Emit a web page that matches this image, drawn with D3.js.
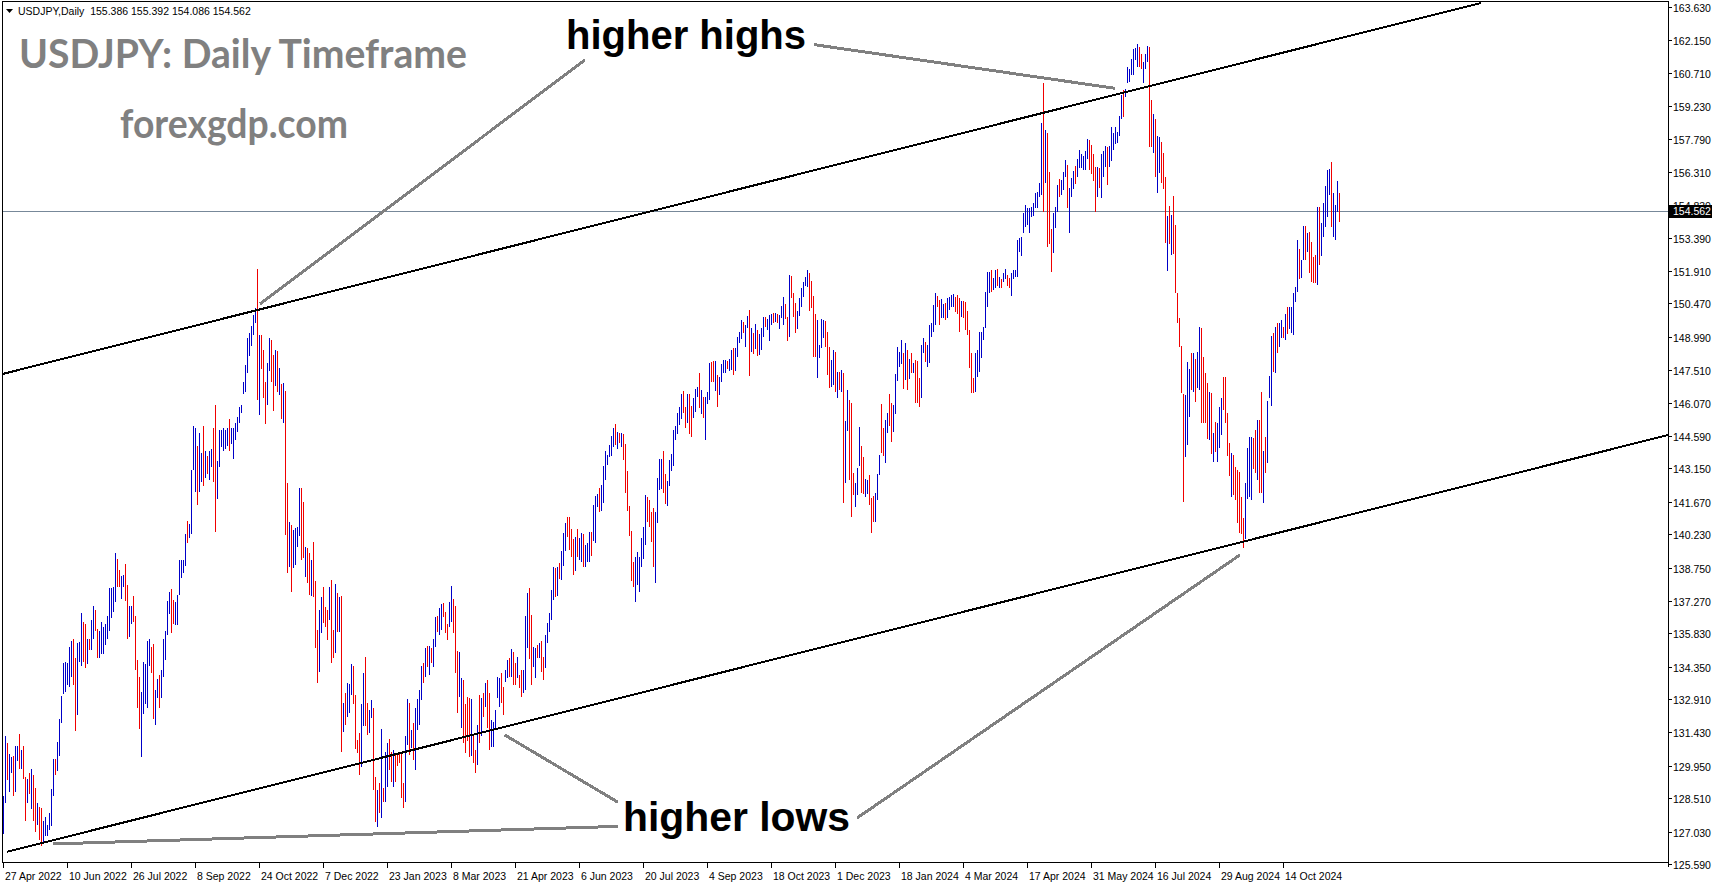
<!DOCTYPE html>
<html><head><meta charset="utf-8">
<script src="https://cdn.jsdelivr.net/npm/d3@7"></script>
<style>body{margin:0;background:#fff;overflow:hidden}svg{display:block}</style>
</head><body>
<svg id="c" width="1714" height="888"></svg>
<script>
// ---------- DATA (USDJPY daily, one bar per trading day, bar 0 = 27 Apr 2022) ----------
const highs = [
128.62,131.25,130.96,130.49,130.32,130.40,130.83,130.83,131.34,130.66,
130.83,129.47,129.38,129.64,129.81,129.55,128.96,128.28,128.11,128.08,
127.51,127.68,127.34,127.85,128.92,130.23,130.23,131.00,132.02,133.03,
134.53,134.56,134.53,135.24,135.50,135.58,134.73,135.41,135.46,136.74,
136.35,136.26,135.58,135.58,136.43,137.03,136.86,136.01,135.92,136.35,
136.09,136.26,136.60,137.83,137.83,137.88,139.39,139.15,138.64,138.39,
138.44,138.90,137.96,137.03,137.03,137.49,136.60,134.65,133.88,133.21,
134.56,134.48,135.50,135.58,135.24,135.36,133.32,133.80,133.97,134.22,
135.58,135.92,137.28,137.66,137.79,137.32,137.20,137.54,139.07,139.07,
139.07,140.25,140.81,140.68,143.09,145.01,144.93,144.16,144.72,143.82,
145.01,143.91,143.70,143.91,143.99,144.96,145.95,143.48,144.84,144.84,
144.93,144.84,144.93,145.35,144.93,144.93,145.18,145.44,145.86,145.95,
147.00,147.73,148.92,149.17,149.48,149.94,150.28,151.98,149.09,149.09,
148.41,147.00,147.85,148.92,148.83,148.20,148.40,148.35,147.60,146.90,
146.95,146.60,142.49,140.79,140.64,140.42,140.49,140.57,142.27,142.27,
141.68,139.68,139.61,139.41,139.10,139.90,138.13,135.98,136.87,137.46,
137.87,137.00,136.87,137.87,138.20,135.98,138.00,137.61,137.46,137.49,
132.72,133.17,133.62,133.60,134.45,134.40,133.10,131.10,131.40,132.70,
134.05,134.80,132.72,132.43,132.87,132.51,129.47,128.88,129.18,131.57,
128.95,130.58,130.95,131.13,130.58,130.66,130.51,130.51,130.58,130.51,
129.18,131.25,132.90,132.72,131.54,131.87,132.50,132.90,133.32,134.38,
134.50,135.17,135.27,135.27,135.17,135.57,136.57,136.60,136.94,137.14,
137.19,136.79,136.25,137.24,137.93,137.34,137.02,135.06,135.02,133.85,
133.76,132.67,133.02,132.95,132.90,131.32,130.66,131.76,133.10,132.95,
133.17,133.62,133.76,133.17,131.99,131.91,132.43,133.91,133.84,134.06,
133.44,134.21,134.65,134.72,135.12,135.02,134.50,134.80,133.98,134.21,
134.21,136.60,137.61,137.83,136.65,135.24,135.17,135.32,135.39,135.50,
134.80,135.75,136.30,136.72,137.75,138.79,138.71,138.76,138.97,139.50,
140.27,140.74,140.98,140.98,140.45,140.00,140.12,140.48,140.05,140.30,
140.24,139.75,139.82,140.34,140.34,141.53,141.92,142.01,142.28,142.41,
143.26,143.94,143.74,144.19,144.59,144.93,145.12,144.78,144.74,144.74,
144.68,144.23,143.05,141.48,140.39,139.01,139.20,139.45,139.20,140.05,
140.53,141.97,141.87,141.75,141.23,141.38,141.23,142.71,143.55,143.55,
143.94,142.90,142.61,143.52,143.79,144.85,145.03,145.62,145.89,146.45,
146.60,145.89,146.45,146.45,145.92,146.26,146.66,146.78,147.40,146.63,
146.30,146.33,146.56,147.84,147.89,147.93,147.93,147.30,147.22,147.78,
147.96,147.96,147.93,147.99,148.41,148.48,148.48,149.00,149.22,149.74,
149.66,149.52,149.91,150.18,149.37,149.17,149.56,149.29,149.12,149.37,
149.86,149.86,149.77,149.96,150.00,150.06,150.03,150.00,149.96,150.36,
150.77,150.45,149.86,151.73,151.69,150.95,150.51,150.15,150.70,151.14,
151.44,151.63,151.96,151.81,151.48,150.80,150.00,149.74,148.63,149.77,
149.74,149.71,149.22,148.52,147.96,148.41,148.33,147.44,147.44,147.52,
147.37,145.27,146.63,146.19,146.04,142.96,142.49,143.15,145.00,144.14,
143.67,142.67,142.64,142.86,141.82,141.93,142.07,142.90,143.74,146.01,
144.93,145.30,145.59,146.45,146.04,145.96,147.34,148.52,148.33,148.85,
148.26,148.73,148.41,147.99,148.26,147.81,147.96,147.93,147.15,148.63,
148.92,148.77,148.63,149.52,149.59,150.40,150.92,150.80,150.63,150.66,
150.45,150.48,150.70,150.74,150.85,150.89,150.77,150.85,150.70,150.60,
150.60,150.55,150.15,149.29,148.26,147.15,148.26,148.41,149.22,149.22,
149.44,150.99,151.88,151.88,151.96,151.59,151.96,151.99,151.63,151.54,
151.84,151.99,151.73,151.59,151.81,151.96,151.96,153.29,153.36,153.43,
154.47,154.84,154.69,154.69,154.77,154.92,155.36,155.43,155.80,158.50,
160.27,158.17,158.02,156.32,153.76,154.47,154.77,155.73,155.98,155.95,
156.32,156.84,156.62,155.58,156.03,156.37,156.57,156.87,157.28,157.10,
157.00,157.25,157.76,157.73,157.50,157.10,156.51,156.51,156.47,157.11,
157.25,157.46,157.40,157.46,158.29,158.02,158.32,158.10,158.79,159.72,
159.95,159.98,160.95,160.86,161.31,161.75,161.80,161.99,161.84,161.53,
161.20,161.53,161.90,161.84,159.50,158.88,158.64,157.90,157.87,157.65,
157.14,156.07,154.35,154.80,154.40,155.24,153.95,150.95,149.81,148.58,
146.45,146.41,147.89,147.55,148.26,148.26,147.99,148.33,149.44,149.37,
148.11,147.37,146.93,146.56,146.48,144.71,145.23,145.15,145.89,146.26,
147.22,147.22,145.59,144.26,143.85,143.75,143.23,143.08,143.00,141.90,
140.94,142.49,144.04,144.56,144.56,144.49,144.86,145.30,145.30,146.56,
143.94,144.56,146.16,147.25,149.03,149.15,149.44,149.59,149.59,149.74,
149.44,150.00,150.33,150.30,150.33,150.95,151.22,153.29,152.87,152.40,
153.91,153.91,153.58,153.66,153.21,152.55,152.62,154.77,154.77,154.03,
154.92,155.69,156.40,156.45,156.77,155.39,154.84,155.92,155.39
];
const lows = [
126.92,128.31,129.30,128.79,129.64,128.62,128.79,130.15,129.81,129.81,
129.38,127.51,128.28,128.70,128.02,127.51,127.01,127.34,126.67,126.41,
126.58,126.84,126.84,127.09,127.26,128.62,129.55,129.72,130.40,131.85,
133.12,133.21,133.55,133.46,133.88,133.55,131.51,132.19,134.56,134.39,
134.56,134.31,134.48,135.07,135.07,135.58,135.92,134.73,134.73,134.90,
134.90,135.33,135.58,135.92,136.52,136.77,137.20,137.88,137.88,137.37,
137.88,137.28,135.58,135.67,136.26,136.35,134.22,132.53,131.59,130.32,
132.27,132.70,132.53,134.39,134.05,132.02,131.76,132.95,132.53,132.95,
133.88,134.65,135.75,136.69,135.84,136.26,136.18,136.18,137.54,138.30,
138.50,138.81,139.83,140.08,140.25,143.06,142.12,141.53,142.12,142.55,
142.38,142.72,142.89,142.63,143.23,142.55,140.34,141.78,143.23,144.08,
143.91,143.99,144.16,143.91,144.25,143.57,144.42,144.76,145.18,145.61,
146.45,146.54,147.39,148.15,148.58,149.09,149.60,146.20,145.52,147.56,
146.28,145.10,145.98,147.47,147.00,145.70,146.80,146.55,146.40,145.33,
145.18,140.20,138.50,138.79,137.68,138.72,138.87,139.68,140.15,139.09,
139.16,138.35,138.05,137.53,137.50,137.46,135.17,133.61,134.13,135.83,
136.28,136.10,135.54,136.42,134.50,134.72,134.95,135.91,135.90,130.58,
131.47,131.76,132.13,132.30,133.10,132.70,130.70,130.50,129.55,129.90,
131.70,131.70,131.32,131.40,132.06,128.88,127.47,127.22,127.84,127.62,
128.36,128.36,129.03,129.77,129.25,129.03,129.25,129.92,130.06,128.51,
128.07,128.32,130.88,130.43,130.73,130.21,129.77,131.54,131.76,132.87,
133.61,133.91,134.35,133.98,134.50,134.35,135.24,135.91,135.76,135.98,
136.57,135.83,135.54,136.13,136.31,135.83,134.06,132.28,133.02,131.62,
130.95,130.51,131.03,130.36,130.39,130.06,129.65,129.99,130.95,131.25,
132.13,132.58,131.62,130.66,130.80,130.80,131.54,132.95,132.58,132.73,
132.21,133.69,133.84,133.91,133.91,133.54,133.54,133.84,133.39,133.02,
133.17,133.32,135.17,134.68,133.54,134.35,133.84,134.72,134.72,134.10,
133.75,134.30,135.40,135.90,136.42,137.31,137.43,137.49,138.23,138.20,
138.82,139.50,140.12,139.53,139.23,138.42,138.61,139.23,139.08,139.01,
138.79,138.76,139.01,139.01,139.26,139.94,139.85,141.45,141.23,141.27,
141.63,142.64,143.30,143.67,143.70,144.11,144.19,143.99,144.29,144.08,
143.52,142.07,141.27,140.15,138.17,137.90,137.24,137.97,137.68,138.76,
139.11,139.75,140.79,140.56,139.90,138.76,138.05,140.71,142.19,142.22,
142.07,141.57,141.48,142.37,143.05,143.26,144.41,144.68,145.08,145.33,
145.59,144.93,145.15,144.68,144.56,145.37,145.67,146.33,145.82,145.56,
145.37,144.41,146.01,146.19,147.00,147.00,146.60,145.89,146.41,147.00,
147.37,147.37,147.55,147.49,147.52,147.30,147.49,148.11,148.70,148.88,
149.15,148.52,149.37,147.25,148.33,148.23,148.43,148.14,148.18,148.41,
148.97,149.44,149.29,148.82,149.51,149.62,149.66,149.59,149.32,149.81,
149.51,149.77,148.82,149.00,150.70,149.86,149.17,149.32,149.91,150.30,
150.77,151.25,151.22,150.15,150.25,148.11,148.11,147.15,148.03,148.48,
148.92,148.55,147.30,146.70,146.78,146.85,146.56,146.26,146.63,146.56,
141.63,142.49,144.83,142.64,140.98,141.97,141.45,141.97,143.26,142.04,
142.01,141.87,142.01,141.53,140.27,140.79,140.79,141.75,142.86,143.82,
143.70,143.41,144.74,145.03,144.34,144.78,145.57,147.04,147.67,147.79,
146.66,147.07,146.63,147.10,147.40,147.37,146.04,146.04,145.89,146.26,
148.29,147.89,147.67,147.81,149.00,149.22,149.52,150.33,149.52,149.81,
149.81,149.74,149.81,150.18,150.33,150.33,150.11,150.00,149.22,149.86,
149.81,149.29,149.07,147.59,146.48,146.48,146.56,147.22,147.44,148.03,
148.85,149.37,150.33,150.92,150.99,151.07,151.14,151.25,151.14,151.14,
151.44,151.54,151.25,151.14,150.80,151.54,151.63,151.63,152.76,152.58,
153.58,153.88,153.95,153.61,154.32,154.35,154.69,154.69,155.21,155.30,
154.55,155.83,152.99,153.11,151.88,152.73,153.81,154.55,155.18,155.29,
155.51,156.10,154.69,153.61,155.21,155.54,155.77,156.10,156.47,156.50,
156.40,156.40,156.87,156.40,156.20,155.90,154.55,155.18,155.58,155.14,
156.10,156.54,155.73,156.54,156.81,157.28,157.55,157.61,157.91,158.64,
158.76,159.62,160.27,160.32,160.61,160.61,161.28,160.98,160.98,160.86,
160.27,160.86,161.20,157.43,157.40,157.17,156.07,155.39,156.25,155.80,
155.54,153.14,151.93,153.11,152.62,152.65,150.92,149.62,148.52,146.48,
141.68,143.64,144.19,145.45,146.63,146.56,146.11,146.70,146.63,145.18,
145.15,145.18,144.44,144.41,143.80,143.45,143.89,143.45,144.04,144.63,
145.74,145.15,143.70,142.81,141.90,141.97,141.75,140.71,140.27,140.24,
139.60,140.00,141.78,141.90,141.75,143.11,142.93,142.64,142.04,142.07,
141.63,142.93,143.38,146.26,145.92,147.45,147.37,148.26,148.55,148.92,
148.92,148.85,149.12,149.32,149.15,149.07,150.55,151.00,151.54,151.59,
152.40,152.40,152.77,151.81,151.44,151.40,151.37,151.29,152.18,152.58,
153.44,153.88,154.32,155.30,153.88,153.44,153.29,154.55,154.09
];
// u = bullish (blue) bar, d = bearish (red) bar
const directions = [
"uuduuduudu","ddududdudd","uuuuuuduuu","uuuuudduuu","dduduudduu","uuuuuuuddu","udduuddddu","uuuudduudu","uuuudduuuu","uuduuuuduu",
"duduudduuu","uuuduuuuuu","uuuuuuudud","dduuddudud","udduduuuud","dudduddduu","ddduddudud","uduuuddddu","udduuddudu","duuddudddd",
"duududuuuu","dududuuduu","ddduuddduu","dddduddudu","dudduuuuud","duududdudd","uuudduudud","duuuuududu","uudddduduu","duuuduuudu",
"uuuuuududu","dddddduuuu","uudddduuuu","dduuuuuuuu","ddudduuudu","duuudduduu","uuduuduuuu","duudududuu","uduuududuu","udduddduuu",
"uuudddduuu","uddduududu","duuddduuud","duuddduuud","duudduuuuu","dudududddu","uduuuuuddu","uduuuudddu","dddddduuuu","uuuuduudud",
"uudduuuuuu","uuuuuuuuuu","duddduuudu","uuduuuduuu","uuuddddudu","uuduuuuuuu","duuuuuuudd","uuudduduud","ddududdddd","duuududuud",
"dddududuuu","dddduddddd","duuuuddudd","uduuududuu","duduuuuudu","ududdddudu","uuuuduuud"
].join("");
const dateLabels = ["27 Apr 2022","10 Jun 2022","26 Jul 2022","8 Sep 2022","24 Oct 2022","7 Dec 2022","23 Jan 2023",
"8 Mar 2023","21 Apr 2023","6 Jun 2023","20 Jul 2023","4 Sep 2023","18 Oct 2023","1 Dec 2023","18 Jan 2024",
"4 Mar 2024","17 Apr 2024","31 May 2024","16 Jul 2024","29 Aug 2024","14 Oct 2024"];
const barsPerDateLabel = 32;
const priceTicks = [163.63,162.15,160.71,159.23,157.79,156.31,154.83,153.39,151.91,150.47,148.99,147.51,146.07,
144.59,143.15,141.67,140.23,138.75,137.27,135.83,134.35,132.91,131.43,129.95,128.51,127.03,125.59];
const lastPrice = 154.562;
const headerText = "USDJPY,Daily  155.386 155.392 154.086 154.562";
// trend channel (bar index, price)
const channelUpper = [[-0.5,147.34],[738.75,163.81]];
const channelLower = [[1.55,126.13],[832.25,144.63]];
// annotation pointer lines (bar index, price)
const pointers = [
  [[128.25,150.45],[290.75,161.28]],
  [[405.25,161.96],[555.75,160.02]],
  [[24.75,126.48],[307.25,127.26]],
  [[250.6,131.32],[307.25,128.33]],
  [[426.75,127.63],[618.25,139.31]]
];

// ---------- DRAW ----------
const svg = d3.select("#c");
const W = 1714, H = 888;
const plot = {left:2.5, right:1668.5, top:1.5, bottom:862.5};
const x = d3.scaleLinear().domain([0, highs.length-1]).range([3.5, 3.5 + 2*(highs.length-1)]);
const y = d3.scaleLinear().domain([125.59, 163.63]).range([864, 7]);
const BLUE = "#0000c8", RED = "#f00000";

svg.append("rect").attr("width",W).attr("height",H).attr("fill","#fff");
svg.append("defs").append("clipPath").attr("id","clip").append("rect")
  .attr("x",plot.left+0.5).attr("y",plot.top+0.5).attr("width",plot.right-plot.left-1).attr("height",plot.bottom-plot.top-1);

const g = svg.append("g").attr("clip-path","url(#clip)");

// last price line
g.append("line").attr("x1",plot.left).attr("x2",plot.right)
  .attr("y1",Math.round(y(lastPrice))+0.5).attr("y2",Math.round(y(lastPrice))+0.5)
  .attr("stroke","#778899").attr("stroke-width",1).attr("shape-rendering","crispEdges");

// bars
g.append("g").selectAll("line").data(highs).join("line")
  .attr("x1",(d,i)=>Math.floor(x(i))+0.5).attr("x2",(d,i)=>Math.floor(x(i))+0.5)
  .attr("y1",(d,i)=>Math.round(y(d)))
  .attr("y2",(d,i)=>Math.max(Math.round(y(lows[i])), Math.round(y(d))+2))
  .attr("stroke",(d,i)=>directions[i]==="u"?BLUE:RED)
  .attr("stroke-width",1).attr("shape-rendering","crispEdges");

// channel lines
const lineGen = d3.line().x(d=>x(d[0])).y(d=>y(d[1]));
[channelUpper, channelLower].forEach(c=>{
  g.append("path").attr("d",lineGen(c)).attr("fill","none").attr("stroke","#000")
   .attr("stroke-width",2).attr("shape-rendering","crispEdges");
});
// pointers
pointers.forEach(p=>{
  g.append("path").attr("d",lineGen(p)).attr("fill","none").attr("stroke","#808080")
   .attr("stroke-width",3).attr("shape-rendering","crispEdges");
});

// frame
svg.append("path").attr("d",`M${plot.left},${plot.bottom}V${plot.top}H${plot.right}`)
  .attr("fill","none").attr("stroke","#000").attr("stroke-width",1).attr("shape-rendering","crispEdges");
svg.append("line").attr("x1",plot.left).attr("x2",plot.right).attr("y1",plot.bottom).attr("y2",plot.bottom)
  .attr("stroke","#000").attr("shape-rendering","crispEdges");
svg.append("line").attr("x1",plot.right).attr("x2",plot.right).attr("y1",plot.top).attr("y2",867)
  .attr("stroke","#000").attr("shape-rendering","crispEdges");

const AXF = "'Liberation Sans', Arial, sans-serif";
// price axis
const pa = svg.append("g");
priceTicks.forEach(v=>{
  const yy = Math.round(y(v))+0.5;
  pa.append("line").attr("x1",plot.right).attr("x2",plot.right+3).attr("y1",yy).attr("y2",yy)
    .attr("stroke","#000").attr("shape-rendering","crispEdges");
  pa.append("text").attr("x",plot.right+4.5).attr("y",yy+4).text(v.toFixed(3))
    .attr("font-family",AXF).attr("font-size","10.5px").attr("fill","#000");
});
// last price tag
const ly = Math.round(y(lastPrice));
svg.append("rect").attr("x",plot.right+0.5).attr("y",ly-6).attr("width",43).attr("height",13).attr("fill","#000");
svg.append("text").attr("x",plot.right+4.5).attr("y",ly+4).text(lastPrice.toFixed(3))
  .attr("font-family",AXF).attr("font-size","10.5px").attr("fill","#fff");

// time axis
dateLabels.forEach((t,k)=>{
  const xx = Math.floor(x(k*barsPerDateLabel))+0.5;
  svg.append("line").attr("x1",xx).attr("x2",xx).attr("y1",plot.bottom).attr("y2",plot.bottom+5)
    .attr("stroke","#000").attr("shape-rendering","crispEdges");
  svg.append("text").attr("x",xx+1.5).attr("y",880).text(t)
    .attr("font-family",AXF).attr("font-size","10.5px").attr("fill","#000");
});

// header
svg.append("path").attr("d","M6,9H13L9.5,13Z").attr("fill","#000");
svg.append("text").attr("x",18).attr("y",15).text(headerText)
  .attr("font-family",AXF).attr("font-size","10.5px").attr("fill","#000").attr("xml:space","preserve")
  .style("white-space","pre");

// titles
svg.append("text").attr("x",19).attr("y",68).text("USDJPY: Daily Timeframe")
  .attr("font-family","Lato, 'Open Sans', sans-serif").attr("font-weight",700).attr("font-size","40px")
  .attr("fill","#808080").attr("textLength",448).attr("lengthAdjust","spacingAndGlyphs");
svg.append("text").attr("x",120).attr("y",138).text("forexgdp.com")
  .attr("font-family","Lato, 'Open Sans', sans-serif").attr("font-weight",700).attr("font-size","40px")
  .attr("fill","#808080").attr("textLength",228).attr("lengthAdjust","spacingAndGlyphs");
svg.append("text").attr("x",566).attr("y",49).text("higher highs")
  .attr("font-family","'Liberation Sans', Arial, sans-serif").attr("font-weight",700).attr("font-size","40px")
  .attr("fill","#000").attr("textLength",240).attr("lengthAdjust","spacingAndGlyphs");
svg.append("text").attr("x",623).attr("y",831).text("higher lows")
  .attr("font-family","'Liberation Sans', Arial, sans-serif").attr("font-weight",700).attr("font-size","40px")
  .attr("fill","#000").attr("textLength",227).attr("lengthAdjust","spacingAndGlyphs");
</script>
</body></html>
